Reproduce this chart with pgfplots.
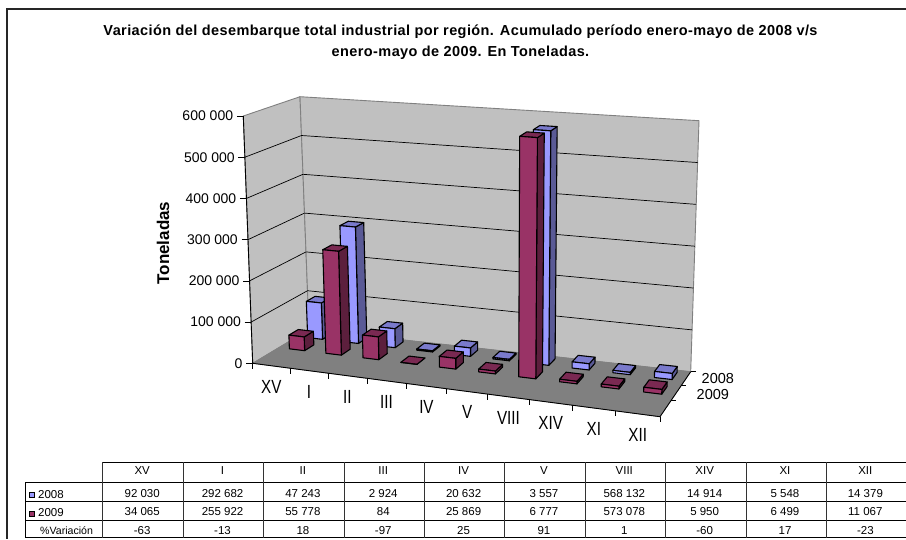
\documentclass[border=0pt]{standalone}
\usepackage{fontspec}
\setmainfont{Liberation Sans}
\newfontfamily\titlefont{Liberation Sans}[LetterSpace=2.8]
\usepackage{pgfplots}
\usepackage{pgfplotstable}
\pgfplotsset{compat=1.18}

% toneladas por region
\pgfplotstableread{
reg a2008 a2009
0 92030 34065
1 292682 255922
2 47243 55778
3 2924 84
4 20632 25869
5 3557 6777
6 568132 573078
7 14914 5950
8 5548 6499
9 14379 11067
}\datos

\definecolor{barA}{HTML}{9999FF}
\definecolor{barAtop}{HTML}{7A7ACC}
\definecolor{barAside}{HTML}{5A5A96}
\definecolor{barB}{HTML}{993366}
\definecolor{barBtop}{HTML}{7A2952}
\definecolor{barBside}{HTML}{5C1F3D}
\definecolor{wall}{HTML}{C0C0C0}
\definecolor{floorc}{HTML}{808080}

\tikzset{celda/.style={font=\fontsize{11.5}{13}\selectfont, inner sep=0pt, anchor=center}}

% perspective of the Excel box: u = category 0..10, v = depth 0..1, w = toneladas
\def\Uw#1{((#1)/10/((#1)/10+(1-(#1)/10)*1.1))}
\def\Vw#1{((#1)/((#1)+(1-(#1))*0.9))}
\def\flX#1#2{(252.7+\Uw{#1}*407.3+\Vw{#2}*(56.3-\Uw{#1}*25.6))}
\def\flY#1#2{(363.3+\Uw{#1}*53.4+\Vw{#2}*(-33.8-\Uw{#1}*11.2))}
\def\tpX#1#2{(243.3+\Uw{#1}*423.7+\Vw{#2}*(56.7-\Uw{#1}*24.7))}
\def\tpY#1#2{(116+\Uw{#1}*34.7+\Vw{#2}*(-19.3-\Uw{#1}*10.7))}
\def\PX#1#2#3{\fpeval{round(\flX{#1}{#2}+(#3)/600000*(\tpX{#1}{#2}-\flX{#1}{#2}),2)}}
\def\PY#1#2#3{\fpeval{round(\flY{#1}{#2}+(#3)/600000*(\tpY{#1}{#2}-\flY{#1}{#2}),2)}}
\def\PP#1#2#3{(\PX{#1}{#2}{#3},\PY{#1}{#2}{#3})}

% \barra{category}{depth front}{value}{front}{top}{side}
\newcommand\barra[6]{%
  \edef\ua{\fpeval{#1+0.29}}\edef\ub{\fpeval{#1+0.71}}%
  \edef\va{#2}\edef\vb{\fpeval{#2+0.17}}%
  \edef\temp{%
    \noexpand\addplot[draw=black,line width=1.1pt,fill=#6,line join=round] coordinates
      {\PP{\ub}{\va}{0} \PP{\ub}{\vb}{0} \PP{\ub}{\vb}{#3} \PP{\ub}{\va}{#3}} --cycle;
    \noexpand\addplot[draw=black,line width=1.1pt,fill=#5,line join=round] coordinates
      {\PP{\ua}{\va}{#3} \PP{\ub}{\va}{#3} \PP{\ub}{\vb}{#3} \PP{\ua}{\vb}{#3}} --cycle;
    \noexpand\addplot[draw=black,line width=1.1pt,fill=#4,line join=round] coordinates
      {\PP{\ua}{\va}{0} \PP{\ub}{\va}{0} \PP{\ub}{\va}{#3} \PP{\ua}{\va}{#3}} --cycle;
  }\temp
}

% one row of the data table
\newcount\colnum
\newcommand\fila[2]{%
  \colnum=0
  \pgfplotsforeachungrouped \celltxt in {#2}{%
    \edef\temp{\noexpand\node[celda] at (axis cs:\fpeval{142.2+\the\colnum*80.35},#1) {\celltxt};}\temp
    \advance\colnum by 1
  }%
}

\newcommand\ytick[2]{%
  \edef\temp{%
    \noexpand\addplot[black,line width=0.7pt] coordinates
      {(\fpeval{\PX{0}{0}{#1}-6.5},\PY{0}{0}{#1}) \PP{0}{0}{#1}};
    \noexpand\node[anchor=east,inner sep=0pt,font=\noexpand\fontsize{14}{16}\noexpand\selectfont]
      at (axis cs:\fpeval{\PX{0}{0}{#1}-10},\PY{0}{0}{#1}) {#2};}\temp
}

\begin{document}
\begin{tikzpicture}
% values out of the table first
\foreach \k in {0,...,9}{%
  \pgfplotstablegetelem{\k}{a2008}\of\datos
  \expandafter\xdef\csname valA\k\endcsname{\pgfplotsretval}%
  \pgfplotstablegetelem{\k}{a2009}\of\datos
  \expandafter\xdef\csname valB\k\endcsname{\pgfplotsretval}%
}
\begin{axis}[
    scale only axis, width=906pt, height=539pt,
    xmin=0, xmax=906, ymin=0, ymax=539, y dir=reverse,
    hide axis, clip=false,
    every axis plot/.append style={mark=none},
]
% chart frame
\addplot[black!85,line width=1.5pt] coordinates {(906,9) (7,9) (7,539)};

% title and axis label
\node[font=\titlefont\bfseries\fontsize{14.5}{21}\selectfont, align=center] at (axis cs:460.5,42)
  {Variación del desembarque total industrial por región. Acumulado período enero-mayo de 2008 v/s\\
   enero-mayo de 2009. En Toneladas.};
\node[font=\bfseries\fontsize{17}{19}\selectfont, rotate=90] at (axis cs:163,243) {Toneladas};

% walls and floor
\edef\temp{%
  \noexpand\addplot[fill=wall,draw=floorc,line width=0.9pt] coordinates
    {\PP{0}{0}{0} \PP{0}{1}{0} \PP{0}{1}{600000} \PP{0}{0}{600000}} --cycle;
  \noexpand\addplot[fill=wall,draw=floorc,line width=0.9pt] coordinates
    {\PP{0}{1}{0} \PP{10}{1}{0} \PP{10}{1}{600000} \PP{0}{1}{600000}} --cycle;
  \noexpand\addplot[fill=floorc,draw=floorc,line width=0.5pt] coordinates
    {\PP{0}{0}{0} \PP{10}{0}{0} \PP{10}{1}{0} \PP{0}{1}{0}} --cycle;
}\temp

% gridlines, y axis
\pgfplotsforeachungrouped \ygrid in {100000,200000,300000,400000,500000}{%
  \edef\temp{\noexpand\addplot[black,line width=0.7pt] coordinates
    {\PP{0}{0}{\ygrid} \PP{0}{1}{\ygrid} \PP{10}{1}{\ygrid}};}\temp
}
\edef\temp{%
  \noexpand\addplot[black,line width=0.9pt] coordinates {\PP{0}{0}{600000} \PP{0}{0}{0} \PP{10}{0}{0} \PP{10}{1}{0}};
}\temp
\ytick{0}{0}
\ytick{100000}{100 000}
\ytick{200000}{200 000}
\ytick{300000}{300 000}
\ytick{400000}{400 000}
\ytick{500000}{500 000}
\ytick{600000}{600 000}

% category ticks and labels
\pgfplotsforeachungrouped \k in {0,...,10}{%
  \edef\temp{\noexpand\addplot[black,line width=0.7pt] coordinates
    {\PP{\k}{0}{0} (\PX{\k}{0}{0},\fpeval{\PY{\k}{0}{0}+5.5})};}\temp
}
\colnum=0
\pgfplotsforeachungrouped \cat in {XV,I,II,III,IV,V,VIII,XIV,XI,XII}{%
  \edef\temp{\noexpand\node[font=\noexpand\fontsize{19}{21}\noexpand\selectfont,inner sep=0pt,xscale=0.8]
    at (axis cs:\PX{\the\colnum.5}{0}{0},\fpeval{\PY{\the\colnum.5}{0}{0}+21}) {\cat};}\temp
  \advance\colnum by 1
}

% depth ticks and labels
\pgfplotsforeachungrouped \dep in {0.3333,0.6667,1}{%
  \edef\temp{\noexpand\addplot[black,line width=0.7pt] coordinates
    {\PP{10}{\dep}{0} (\fpeval{\PX{10}{\dep}{0}+5},\PY{10}{\dep}{0})};}\temp
}
\node[font=\fontsize{14.5}{16}\selectfont,anchor=west,inner sep=0pt] at (axis cs:701.5,379) {2008};
\node[font=\fontsize{14.5}{16}\selectfont,anchor=west,inner sep=0pt] at (axis cs:696.5,395) {2009};

% bars, back row first
\pgfplotsforeachungrouped \k in {0,...,9}{%
  \edef\val{\csname valA\k\endcsname}%
  \barra{\k}{0.777}{\val}{barA}{barAtop}{barAside}
}
\pgfplotsforeachungrouped \k in {0,...,9}{%
  \edef\val{\csname valB\k\endcsname}%
  \barra{\k}{0.44}{\val}{barB}{barBtop}{barBside}
}

% data table below the chart
\addplot[black,line width=0.8pt] coordinates {(102.3,462.3) (906,462.3)};
\addplot[black,line width=0.8pt] coordinates {(25.7,482.3) (906,482.3)};
\addplot[black,line width=0.8pt] coordinates {(25.7,501.7) (906,501.7)};
\addplot[black,line width=0.8pt] coordinates {(25.7,520) (906,520)};
\addplot[black,line width=0.8pt] coordinates {(25.7,537.7) (906,537.7)};
\addplot[black,line width=0.8pt] coordinates {(25.7,482.3) (25.7,537.7)};
\pgfplotsforeachungrouped \xl in {102.3,183.3,263.3,344,424,504.3,585.7,665.3,746,826}{%
  \edef\temp{\noexpand\addplot[black!80,line width=0.8pt] coordinates {(\xl,462.3) (\xl,537.7)};}\temp
}
\fila{471}{XV,I,II,III,IV,V,VIII,XIV,XI,XII}
\fila{493.5}{92 030,292 682,47 243,2 924,20 632,3 557,568 132,14 914,5 548,14 379}
\fila{512}{34 065,255 922,55 778,84,25 869,6 777,573 078,5 950,6 499,11 067}
\fila{530.5}{-63,-13,18,-97,25,91,1,-60,17,-23}
\addplot[draw=black,line width=0.8pt,fill=barA] coordinates {(29.7,492.5) (34.7,492.5) (34.7,497.5) (29.7,497.5)} --cycle;
\addplot[draw=black,line width=0.8pt,fill=barB] coordinates {(29.7,511) (34.7,511) (34.7,516) (29.7,516)} --cycle;
\node[celda,anchor=west] at (axis cs:38,494.5) {2008};
\node[celda,anchor=west] at (axis cs:38,513) {2009};
\node[celda,anchor=west,font=\fontsize{10.6}{12}\selectfont] at (axis cs:40,531) {\%Variación};
\end{axis}
\pgfresetboundingbox
\useasboundingbox (0,0) rectangle (906pt,539pt);
\end{tikzpicture}
\end{document}
